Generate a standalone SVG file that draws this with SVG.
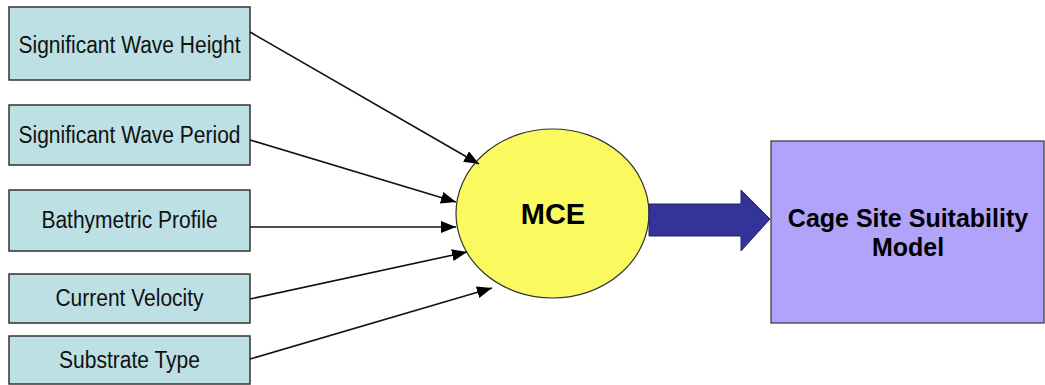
<svg xmlns="http://www.w3.org/2000/svg" width="1045" height="385" viewBox="0 0 1045 385">
  <style>
    .input rect { fill: #bce0e3; stroke: #333; stroke-width: 1.5; }
    .input text { font-family: "Liberation Sans", Arial, sans-serif; font-size: 21px; fill: #111; text-anchor: middle; }
    .conn line { stroke: #111; stroke-width: 1.6; marker-end: url(#head); }
    .bold { font-family: "Liberation Sans", Arial, sans-serif; font-weight: bold; fill: #000; text-anchor: middle; }
  </style>
  <defs>
    <marker id="head" markerUnits="userSpaceOnUse" markerWidth="16" markerHeight="12" refX="15" refY="6" orient="auto">
      <path d="M0,0 L15,6 L0,12 z" fill="#000"/>
    </marker>
  </defs>
  <rect width="1045" height="385" fill="#fff"/>

  <!-- input factors; labels are drawn slightly tall -->
  <g id="wave-height" class="input">
    <rect x="9" y="7" width="241" height="73"/>
    <text transform="translate(129.5,52.5) scale(1,1.1)">Significant Wave Height</text>
  </g>
  <g id="wave-period" class="input">
    <rect x="9" y="105" width="241" height="60"/>
    <text transform="translate(129.5,143) scale(1,1.1)">Significant Wave Period</text>
  </g>
  <g id="bathymetry" class="input">
    <rect x="9" y="190" width="241" height="61"/>
    <text transform="translate(129.5,228) scale(1,1.1)">Bathymetric Profile</text>
  </g>
  <g id="current-velocity" class="input">
    <rect x="9" y="274" width="241" height="49"/>
    <text transform="translate(129.5,306) scale(1,1.1)">Current Velocity</text>
  </g>
  <g id="substrate" class="input">
    <rect x="9" y="336" width="241" height="48"/>
    <text transform="translate(129.5,368) scale(1,1.1)">Substrate Type</text>
  </g>

  <g id="mce">
    <ellipse cx="552.5" cy="213.5" rx="96.5" ry="84.5" fill="#fafa60" stroke="#333" stroke-width="1.2"/>
    <text class="bold" x="553" y="224" font-size="29">MCE</text>
  </g>

  <g id="model">
    <rect x="771" y="141" width="273" height="182" fill="#b1a3fa" stroke="#333" stroke-width="1.2"/>
    <text class="bold" x="908" y="227" font-size="25">Cage Site Suitability</text>
    <text class="bold" x="908" y="256" font-size="25">Model</text>
  </g>

  <g id="connectors" class="conn">
    <line x1="250" y1="32" x2="479" y2="164"/>
    <line x1="250" y1="140" x2="456" y2="202"/>
    <line x1="250" y1="227" x2="456" y2="227"/>
    <line x1="250" y1="299" x2="467" y2="252"/>
    <line x1="250" y1="359" x2="492" y2="288"/>
    <path d="M649,204 L741,204 L741,190 L770,219 L741,251 L741,236 L649,236 z" fill="#333399" stroke="#222266" stroke-width="1"/>
  </g>
</svg>
